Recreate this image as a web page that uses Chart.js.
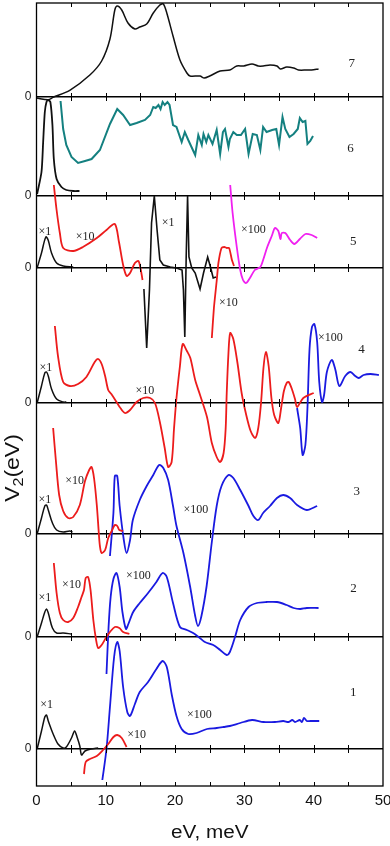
<!DOCTYPE html>
<html>
<head>
<meta charset="utf-8">
<script src="https://cdn.jsdelivr.net/npm/chart.js@4.4.1/dist/chart.umd.min.js"></script>
<style>
  html, body { margin: 0; padding: 0; background: #fff; }
  canvas { display: block; }
</style>
</head>
<body>
<canvas id="chart" width="390" height="846" style="width:390px;height:846px"></canvas>
<script>
// ---- data: [eV, V2 in arbitrary units relative to the panel's zero line] ----
const p7Black = [[0,-1],[1.7,-2.7],[2.4,-0.3],[4.8,6.7],[7.7,22],[9.4,36],[10.6,58],[11.3,87],[11.65,91],[12.3,87],[13.2,74],[14.2,68],[14.9,70],[15.9,73],[16.85,84],[17.8,92],[18.3,93],[18.8,84],[19.7,61],[20.7,37],[21.7,24],[22.15,21],[23.6,21],[24.2,19],[25.0,21],[26.5,26],[27.9,27],[28.9,31],[29.9,31],[31.1,33],[32.0,31],[32.7,31],[33.7,32],[34.7,31],[35.2,28],[36.1,30],[37.1,29],[37.8,27],[39.0,27],[39.7,27],[40.7,28]];

const p6Black = [[0.09,2],[0.72,24],[0.96,54],[1.2,84],[1.44,94],[1.68,96],[2.0,94],[2.3,71],[2.5,37],[2.9,17],[3.6,9],[4.3,6],[5.3,5],[6.2,5]];
const p6Teal = [[3.47,95],[3.85,67],[4.3,51],[5.05,39],[6.0,33],[7.0,35],[7.95,37],[9.15,46],[10.6,72],[11.65,87],[12.5,81],[13.5,71],[14.45,73],[15.65,76],[16.4,81],[16.85,89],[17.2,88],[17.6,91],[17.9,87],[18.2,94],[18.5,91],[18.9,94],[19.2,91],[19.7,71],[20.2,69],[20.95,54],[21.4,64],[21.9,56],[22.9,41],[23.35,61],[23.85,51],[24.1,62],[24.5,54],[24.8,61],[25.4,52],[26.0,66],[26.5,42],[26.9,64],[27.2,67],[27.7,49],[27.9,57],[28.4,64],[28.9,61],[29.5,61],[30.1,67],[30.6,42],[31.2,62],[31.8,61],[32.3,46],[32.7,69],[33.2,64],[34.0,66],[34.6,67],[35.0,51],[35.5,79],[35.9,67],[36.5,59],[37.1,62],[37.7,67],[38.0,78],[38.4,74],[38.8,75],[39.1,52],[39.5,55],[39.9,60]];

const p5Black1 = [[0.09,0],[0.72,15],[1.35,31],[1.68,28],[2.17,15],[2.9,5],[3.85,2],[5.3,1]];
const p5Red1 = [[2.5,83],[2.9,58],[3.37,35],[3.85,20],[5.3,17],[6.7,21],[8.7,30],[10.1,38],[11.3,44],[11.9,26],[12.5,3],[13.0,-8],[13.5,-5],[14.2,5],[14.7,7],[15.0,0],[15.3,-12]];
const p5Black2 = [[15.5,-21],[15.9,-80],[16.3,-22],[16.6,45],[17.0,72],[17.4,38],[17.8,8],[18.3,3],[19.3,1],[20.2,0],[21.0,-2],[21.2,-22],[21.4,-69],[21.6,11],[21.8,72],[22.0,11],[22.4,0],[22.9,-5],[23.6,-21],[24.1,-5],[24.7,11],[25.1,1],[25.5,-10],[25.9,-9]];
const p5Red2 = [[25.3,-70],[25.6,-40],[26.0,-13],[26.25,5],[26.7,20],[27.1,21],[27.45,20],[27.8,20],[28.2,8],[28.5,2]];
const p5Magenta = [[27.95,83],[28.3,55],[28.9,21],[29.4,-2],[29.8,-12],[30.25,-15],[30.8,-10],[31.5,-2],[32.3,1],[32.7,8],[33.3,21],[34.0,33],[34.4,40],[34.9,37],[35.2,29],[35.4,35],[35.9,35],[36.6,28],[37.2,24],[38.0,29],[38.8,34],[39.7,33],[40.5,30]];

const p4Black = [[0.09,0],[0.72,17],[1.2,30],[1.45,31],[1.7,27],[2.17,14],[2.9,4],[3.85,1],[4.3,1]];
const p4Red = [[2.65,77],[3.1,47],[3.85,21],[4.8,17],[6.0,19],[7.2,26],[8.4,41],[8.9,44],[9.4,39],[9.9,27],[10.35,13],[10.8,9],[11.55,1],[12.0,-4],[12.75,-10],[13.5,-7],[14.45,1],[15.4,5],[16.4,5],[17.1,0],[17.8,-19],[18.5,-45],[19.0,-64],[19.5,-59],[19.85,-25],[20.2,5],[20.7,37],[21.1,59],[21.7,52],[22.2,45],[22.9,23],[23.6,8],[24.6,-14],[25.3,-40],[26.0,-54],[26.5,-59],[27.0,-50],[27.3,-25],[27.45,10],[27.7,50],[27.95,70],[28.4,64],[29.0,40],[29.6,10],[30.2,-10],[30.9,-28],[31.55,-35],[32.0,-25],[32.4,0],[32.75,35],[33.1,51],[33.5,37],[33.9,5],[34.3,-12],[34.9,-20],[35.3,-5],[35.7,12],[36.1,20],[36.4,21],[36.8,15],[37.3,4],[37.6,-4],[38.5,5],[40.0,10]];
const p4Blue = [[37.6,-5],[38.05,-25],[38.4,-52],[38.8,-42],[39.1,-5],[39.4,54],[39.75,76],[40.1,79],[40.5,61],[40.8,21],[41.2,1],[41.5,8],[41.9,31],[42.6,43],[43.1,34],[43.7,17],[44.55,27],[45.3,31],[46.0,27],[46.5,25],[47.2,28],[48.2,29],[49.4,28]];

const p3Black = [[0.09,0],[0.72,16],[1.2,28],[1.44,29],[1.7,24],[2.3,11],[2.9,4],[3.85,2],[4.8,3],[5.2,2]];
const p3Red = [[2.4,106],[2.8,73],[3.27,39],[3.85,23],[4.57,16],[5.3,17],[6.25,29],[7.0,53],[7.6,64],[7.95,67],[8.3,56],[8.7,29],[9.0,0],[9.15,-12],[9.4,-19],[9.9,-16],[10.35,-4],[10.85,3],[11.3,9],[11.65,8],[11.95,4],[12.5,3]];
const p3Blue = [[10.6,-22],[11.1,21],[11.3,58],[11.65,58],[12.0,28],[12.6,-6],[13.0,-19],[13.5,-6],[13.9,14],[14.9,34],[15.9,48],[16.85,59],[17.7,69],[18.3,66],[19.0,54],[19.7,28],[20.2,8],[21.2,-19],[22.15,-52],[22.9,-82],[23.3,-92],[23.8,-82],[24.55,-52],[25.3,-8],[26.0,28],[26.7,48],[27.7,59],[28.4,56],[29.4,44],[30.6,28],[31.3,18],[32.0,14],[32.7,21],[33.7,28],[34.7,36],[35.6,39],[36.6,36],[37.6,29],[39.0,24],[40.5,28]];

const p2Black = [[0.09,0],[0.72,14],[1.2,25],[1.44,28],[1.7,24],[2.3,9],[2.9,4],[3.85,4],[5.05,3]];
const p2Red = [[2.5,74],[2.9,44],[3.37,24],[3.85,17],[4.57,15],[5.3,19],[6.0,30],[6.5,40],[6.85,47],[7.1,59],[7.45,60],[7.8,47],[8.2,17],[8.6,-3],[8.9,-11],[9.4,-8],[10.0,-1],[10.6,5],[11.3,10],[11.95,9],[12.5,5],[13.4,3]];
const p2Blue = [[10.1,-37],[10.4,10],[10.7,40],[11.1,58],[11.55,64],[12.0,50],[12.4,25],[12.9,8],[13.2,12],[13.95,25],[14.9,34],[16.1,44],[17.3,55],[18.2,64],[18.8,60],[19.7,34],[20.7,10],[21.7,7],[22.6,4],[23.4,0],[24.3,-5],[25.5,-8],[26.5,-13],[27.45,-18],[27.9,-15],[28.65,0],[29.4,17],[30.6,30],[31.8,34],[33.2,35],[34.7,35],[36.1,32],[37.1,29],[38.05,28],[39.0,29],[40.7,29]];

const p1Black = [[0.09,0],[0.72,18],[1.2,32],[1.44,34],[1.7,28],[2.4,15],[3.1,5],[3.85,1],[4.3,2],[5.05,11],[5.5,18],[5.85,12],[6.25,3],[6.5,-6],[7.0,-2],[7.9,0],[8.9,1]];
const p1Red = [[6.85,-25],[7.1,-13],[7.7,-10],[8.7,-7],[9.6,-1],[10.35,5],[11.1,12],[11.65,14],[12.3,11],[13.0,2]];
const p1Blue = [[9.5,-31],[10.1,0],[10.6,42],[11.2,92],[11.65,107],[12.0,98],[12.5,62],[13.1,37],[13.5,33],[14.2,45],[14.9,57],[16.1,67],[17.3,80],[18.2,88],[18.8,82],[19.5,55],[20.2,33],[20.95,20],[21.9,15],[23.1,16],[24.6,20],[26.0,21],[27.0,22],[27.9,23],[29.4,26],[31.1,29],[32.75,27],[34.4,27],[35.6,28],[36.4,27],[36.9,29],[37.3,27],[38.0,29],[38.3,27],[38.6,31],[39.0,28],[39.5,28],[40.8,28]];

// text marks: [text, eV, local value, panel]
const scaleLabels = [
  ['\u00d71', 1.2, 36, 5], ['\u00d710', 7.0, 31, 5], ['\u00d71', 19.0, 45, 5], ['\u00d7100', 31.3, 38, 5],
  ['\u00d710', 27.7, 100, 4], ['\u00d7100', 42.4, 65, 4], ['\u00d71', 1.35, 35, 4], ['\u00d710', 15.65, 12, 4],
  ['\u00d710', 5.5, 53, 3], ['\u00d71', 1.2, 34, 3], ['\u00d7100', 23.0, 24, 3],
  ['\u00d710', 5.05, 52, 2], ['\u00d7100', 14.7, 61, 2], ['\u00d71', 1.2, 39, 2],
  ['\u00d71', 1.45, 44, 1], ['\u00d7100', 23.5, 34, 1], ['\u00d710', 14.45, 14, 1]
];
const panelNames = [['7', 45.5, 33, 7], ['6', 45.3, 47, 6], ['5', 45.7, 26, 5], ['4', 46.9, 53, 4],
  ['3', 46.2, 42, 3], ['2', 45.75, 48, 2], ['1', 45.7, 56, 1]];

const xTicks = [0, 10, 20, 30, 40, 50];

// ---- layout: baseline of each panel on the shared vertical axis ----
const panelZero = { 1: 37, 2: 149, 3: 252, 4: 383, 5: 518, 6: 590, 7: 689 };
const Y_MAX = 783;

const BLACK = '#111', RED = '#ec1c1c', BLUE = '#1a1ae0', TEAL = '#148080', MAGENTA = '#f020f0';

function trace(points, panel, color, width, tension) {
  return {
    data: points.map(([x, y]) => ({ x: x, y: y + panelZero[panel] })),
    borderColor: color,
    borderWidth: width,
    showLine: true,
    pointRadius: 0,
    tension: tension,
    fill: false
  };
}

const datasets = [
  trace(p7Black, 7, BLACK, 1.5, 0.3),
  trace(p6Black, 6, BLACK, 1.8, 0.25),
  trace(p6Teal, 6, TEAL, 2, 0),
  trace(p5Black1, 5, BLACK, 1.5, 0.35),
  trace(p5Red1, 5, RED, 1.8, 0.3),
  trace(p5Black2, 5, BLACK, 1.6, 0),
  trace(p5Red2, 5, RED, 1.8, 0.2),
  trace(p5Magenta, 5, MAGENTA, 1.8, 0.3),
  trace(p4Black, 4, BLACK, 1.5, 0.35),
  trace(p4Red, 4, RED, 1.8, 0.3),
  trace(p4Blue, 4, BLUE, 1.8, 0.3),
  trace(p3Black, 3, BLACK, 1.5, 0.35),
  trace(p3Red, 3, RED, 1.8, 0.3),
  trace(p3Blue, 3, BLUE, 1.8, 0.3),
  trace(p2Black, 2, BLACK, 1.5, 0.35),
  trace(p2Red, 2, RED, 1.8, 0.3),
  trace(p2Blue, 2, BLUE, 1.8, 0.3),
  trace(p1Black, 1, BLACK, 1.5, 0.3),
  trace(p1Red, 1, RED, 1.8, 0.3),
  trace(p1Blue, 1, BLUE, 1.8, 0.3)
];

// frame, inner ticks on each zero line, annotations and axis titles
const decor = {
  id: 'decor',
  afterDraw(chart) {
    const { ctx, chartArea: a, scales: { x, y } } = chart;
    ctx.save();
    ctx.strokeStyle = '#000';
    ctx.lineWidth = 1.3;
    ctx.strokeRect(a.left, a.top, a.right - a.left, a.bottom - a.top);

    ctx.lineWidth = 1;
    const levels = Object.values(panelZero).map(v => y.getPixelForValue(v));
    for (let v = 5; v < 50; v += 5) {
      const px = Math.round(x.getPixelForValue(v)) + 0.5;
      ctx.beginPath();
      levels.forEach(py => { ctx.moveTo(px, py - 4); ctx.lineTo(px, py + 4); });
      ctx.moveTo(px, a.top); ctx.lineTo(px, a.top + 4);
      ctx.moveTo(px, a.bottom); ctx.lineTo(px, a.bottom - 4);
      ctx.stroke();
    }

    ctx.fillStyle = '#222';
    ctx.textAlign = 'center';
    ctx.textBaseline = 'middle';
    ctx.font = '12px "Liberation Serif", serif';
    scaleLabels.forEach(([t, ev, v, p]) => {
      ctx.fillText(t, x.getPixelForValue(ev), y.getPixelForValue(v + panelZero[p]));
    });
    ctx.font = '13px "Liberation Serif", serif';
    panelNames.forEach(([t, ev, v, p]) => {
      ctx.fillText(t, x.getPixelForValue(ev), y.getPixelForValue(v + panelZero[p]));
    });

    // x title
    ctx.fillStyle = '#111';
    ctx.save();
    ctx.translate((a.left + a.right) / 2, 833);
    ctx.scale(1.15, 1);
    ctx.font = '18px "Liberation Sans", Arial, sans-serif';
    ctx.fillText('eV, meV', 0, 0);
    ctx.restore();

    // y title with subscript
    ctx.save();
    ctx.translate(18.5, 468);
    ctx.rotate(-Math.PI / 2);
    ctx.scale(1.15, 1);
    ctx.textAlign = 'left';
    ctx.textBaseline = 'alphabetic';
    const big = '20px "Liberation Sans", Arial, sans-serif';
    const small = '14px "Liberation Sans", Arial, sans-serif';
    ctx.font = big; const wV = ctx.measureText('V').width; const wRest = ctx.measureText('(eV)').width;
    ctx.font = small; const w2 = ctx.measureText('2').width;
    let sx = -(wV + w2 + wRest) / 2;
    ctx.font = big; ctx.fillText('V', sx, 0); sx += wV;
    ctx.font = small; ctx.fillText('2', sx, 4); sx += w2;
    ctx.font = big; ctx.fillText('(eV)', sx, 0);
    ctx.restore();

    ctx.restore();
  }
};

new Chart(document.getElementById('chart'), {
  type: 'scatter',
  data: { datasets: datasets },
  plugins: [decor],
  options: {
    responsive: false,
    animation: false,
    devicePixelRatio: 1,
    layout: { padding: { top: 3, right: 7, left: 0, bottom: 0 } },
    plugins: { legend: { display: false }, tooltip: { enabled: false } },
    scales: {
      x: {
        type: 'linear',
        min: 0,
        max: 50,
        afterBuildTicks: s => { s.ticks = xTicks.map(v => ({ value: v })); },
        afterFit: s => { s.height = 60; s.paddingLeft = 0; s.paddingRight = 0; },
        grid: { display: false, drawTicks: false },
        border: { display: false },
        ticks: {
          padding: 6,
          color: '#111',
          maxRotation: 0,
          font: { family: '"Liberation Sans", Arial, sans-serif', size: 15 }
        }
      },
      y: {
        type: 'linear',
        min: 0,
        max: Y_MAX,
        afterBuildTicks: s => { s.ticks = Object.values(panelZero).map(v => ({ value: v })); },
        afterFit: s => { s.width = 36.5; s.paddingTop = 0; s.paddingBottom = 0; },
        grid: { color: '#000', lineWidth: 1.4, drawTicks: false },
        border: { display: false },
        ticks: {
          padding: 5,
          color: '#222',
          callback: () => '0',
          font: { family: '"Liberation Sans", Arial, sans-serif', size: 12 }
        }
      }
    }
  }
});
</script>
</body>
</html>
